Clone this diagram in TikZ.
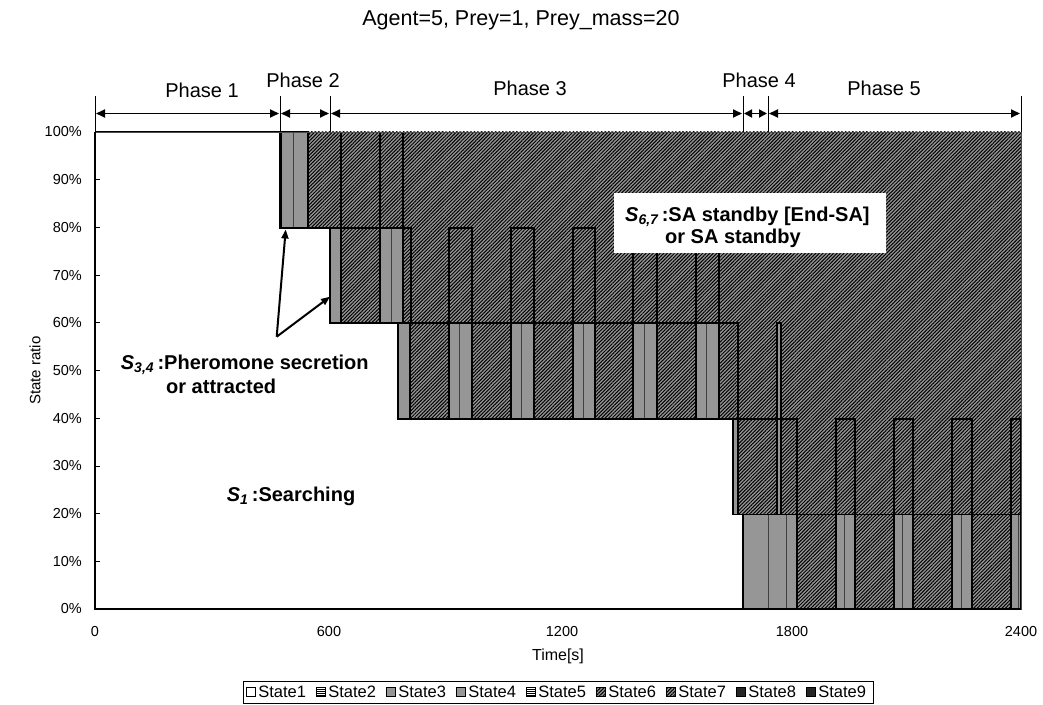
\documentclass[tikz,border=0pt]{standalone}
\usepackage{fontspec}
\setmainfont{Liberation Sans}
\usetikzlibrary{patterns,patterns.meta,arrows.meta}
\definecolor{grayS}{RGB}{150,150,150}
\definecolor{hatchbg}{RGB}{150,150,150}
\tikzset{
  hatched/.style={fill=hatchbg, postaction={pattern={Lines[angle=45,distance=2.5bp,line width=1bp]}, pattern color=black}},
  hlines/.style={fill=white, postaction={pattern={Lines[angle=0,distance=2bp,line width=0.6bp]}, pattern color=black}},
  grayfill/.style={fill=grayS},
  outl/.style={draw=black, line width=1.8bp},
  thinl/.style={draw=black!75, line width=0.8bp},
  phasearrow/.style={line width=1.8bp, {Triangle[length=9bp,width=8bp]}-{Triangle[length=9bp,width=8bp]}, shorten <=1bp, shorten >=1bp},
  phaseline/.style={line width=1bp},
  lbl/.style={font=\fontsize{20bp}{24bp}\selectfont, inner sep=0pt},
  ann/.style={font=\fontsize{20bp}{24bp}\selectfont\bfseries, inner sep=0pt, anchor=base west},
  tick/.style={font=\fontsize{14.5bp}{17bp}\selectfont, inner sep=0pt},
  legtext/.style={font=\fontsize{16.5bp}{18bp}\selectfont, inner sep=0pt, anchor=west},
  legsq/.style={draw=black, line width=0.6bp, minimum size=8.5bp, inner sep=0pt},
  pointer/.style={line width=2bp, -{Triangle[length=9bp,width=7bp]}},
}
\newcommand{\Ssub}[1]{{\itshape S}\textsubscript{\itshape #1}}
\begin{document}
\begin{tikzpicture}[x=1bp,y=-1bp]
\useasboundingbox (0,0) rectangle (1043,705);
% ---- plot area ----
\path[hatched] (95,132) rectangle (1021,609);
\fill[white] (95,609) -- (95,132) -- (280,132) -- (280,227.6) -- (330,227.6) -- (330,323.2) -- (398,323.2) -- (398,418.8) -- (733,418.8) -- (733,514.4) -- (743,514.4) -- (743,609) -- cycle;
% gray strips (State3/4)
\foreach \a/\b in {281/308} \draw[outl,grayfill] (\a,132) rectangle (\b,227.6);
\foreach \a/\b in {330/341,380/403} \draw[outl,grayfill] (\a,227.6) rectangle (\b,323.2);
\foreach \a/\b in {398/410,449/472,511/534,573/595,633/657,696/719} \draw[outl,grayfill] (\a,323.2) rectangle (\b,418.8);
\foreach \a/\b in {733/738} \draw[outl,grayfill] (\a,418.8) rectangle (\b,514.4);
\draw[outl,grayfill] (777,323.2) rectangle (781,514.4);
\foreach \a/\b in {743/797,836/855,894/913,952/972,1011/1021} \draw[outl,grayfill] (\a,514.4) rectangle (\b,609);
% thin state3/4 separators
\draw[thinl] (293.5,132) -- (293.5,227.6);
\draw[thinl] (391,227.6) -- (391,323.2);
\foreach \x in {459.5,521,583,644,706} \draw[thinl] (\x,323.2) -- (\x,418.8);
\foreach \x in {768,786,844,902.5,961,1018} \draw[thinl] (\x,514.4) -- (\x,609);
% outlines
\draw[outl] (95,132) -- (280,132) -- (280,227.6) -- (330,227.6) -- (330,323.2) -- (398,323.2) -- (398,418.8) -- (733,418.8) -- (733,514.4) -- (743,514.4) -- (743,609);
\foreach \x in {308,341,380,403} \draw[outl] (\x,132) -- (\x,227.6);
\draw[outl] (330,227.6) -- (410.7,227.6) -- (410.7,323.2);
\draw[outl] (330,323.2) -- (738,323.2);
\foreach \a/\b in {449/472,511/534,573/595,633/657,696/719} \draw[outl] (\a,323.2) -- (\a,227.6) -- (\b,227.6) -- (\b,323.2);
\draw[outl] (398,323.2) rectangle (738,418.8);
\draw[outl] (733,418.8) -- (797,418.8) -- (797,514.4);
\foreach \a/\b in {836/855,894/913,952/972,1011/1021} \draw[outl] (\a,514.4) -- (\a,418.8) -- (\b,418.8) -- (\b,514.4);
\draw[outl] (733,514.4) -- (1021,514.4);
\draw[outl] (743,514.4) rectangle (1021,609);
% frame and axes
\draw[black!70, line width=0.8bp] (95,132) rectangle (1021,609);
\draw[black, line width=1.4bp] (95,132) -- (95,609) -- (1021,609);
\foreach \i in {1,...,9} \draw[black, line width=0.8bp] (95,{609-47.7*\i}) -- (100,{609-47.7*\i});
% y tick labels
\foreach \i/\t in {0/0\%,1/10\%,2/20\%,3/30\%,4/40\%,5/50\%,6/60\%,7/70\%,8/80\%,9/90\%,10/100\%}
  \node[tick, anchor=east] (yl\i) at (82,{609-47.7*\i}) {\t};
% x tick labels
\foreach \x/\t in {95/0,329/600,562/1200,792/1800,1021/2400}
  \node[tick] (xl\t) at (\x,632) {\t};
\node[tick, font=\fontsize{15bp}{17bp}\selectfont, rotate=90] (ylab) at (35,370.5) {State ratio};
\node[tick, font=\fontsize{16bp}{18bp}\selectfont] (xlab) at (558,656) {Time[s]};
% title
\node[lbl, font=\fontsize{21.5bp}{25bp}\selectfont] (title) at (521,20) {Agent=5, Prey=1, Prey\_mass=20};
% ---- phases ----
\foreach \x in {95,280,330,743,768,1021} \draw[phaseline] (\x,96) -- (\x,132);
\coordinate (ph0) at (95,113.5);
\coordinate (ph1) at (280,113.5);
\coordinate (ph2) at (330,113.5);
\coordinate (ph3) at (743,113.5);
\coordinate (ph4) at (768,113.5);
\coordinate (ph5) at (1021,113.5);
\draw[phasearrow] (ph0) -- (ph1);
\draw[phasearrow] (ph1) -- (ph2);
\draw[phasearrow] (ph2) -- (ph3);
\draw[phasearrow, {Triangle[length=8bp,width=8bp]}-{Triangle[length=8bp,width=8bp]}] (ph3) -- (ph4);
\draw[phasearrow] (ph4) -- (ph5);
\node[lbl] (P1) at (202,90) {Phase 1};
\node[lbl] (P2) at (303,80) {Phase 2};
\node[lbl] (P3) at (530,88) {Phase 3};
\node[lbl] (P4) at (759,80) {Phase 4};
\node[lbl] (P5) at (884,88) {Phase 5};
% ---- annotations ----
\node[draw=none, fill=white, minimum width=272bp, minimum height=60.6bp, inner sep=0pt] (box67) at (750,223) {};
\node[ann] (s67a) at (625,221.7) {\Ssub{6,7}\,:SA standby [End-SA]};
\node[ann] (s67b) at (665,243.3) {or SA standby};
\node[ann] (s34a) at (120.7,369) {\Ssub{3,4}\,:Pheromone secretion};
\node[ann] (s34b) at (166,393.3) {or attracted};
\node[ann] (s1) at (226.7,501.7) {\Ssub{1}\,:Searching};
\coordinate (a34) at (276.7,336.7);
\coordinate (t1) at (285.7,229.5);
\coordinate (t2) at (330,296.7);
\draw[pointer] (a34) -- (t1);
\draw[pointer] (a34) -- (t2);
% ---- legend ----
\node[draw=black, line width=0.8bp, minimum width=630bp, minimum height=22bp, inner sep=0pt] (legend) at (558,692) {};
\node[legsq, fill=white] (q1) at (251,692) {};
\node[legsq, hlines] (q2) at (321,692) {};
\node[legsq, grayfill] (q3) at (391,692) {};
\node[legsq, grayfill] (q4) at (461,692) {};
\node[legsq, hlines] (q5) at (531,692) {};
\node[legsq, hatched] (q6) at (601,692) {};
\node[legsq, hatched] (q7) at (671,692) {};
\node[legsq, fill=black!85] (q8) at (741,692) {};
\node[legsq, fill=black!85] (q9) at (811,692) {};
\foreach \i in {1,...,9} \node[legtext] (lt\i) at ([xshift=2.5bp]q\i.east) {State\i};
\end{tikzpicture}
\end{document}
